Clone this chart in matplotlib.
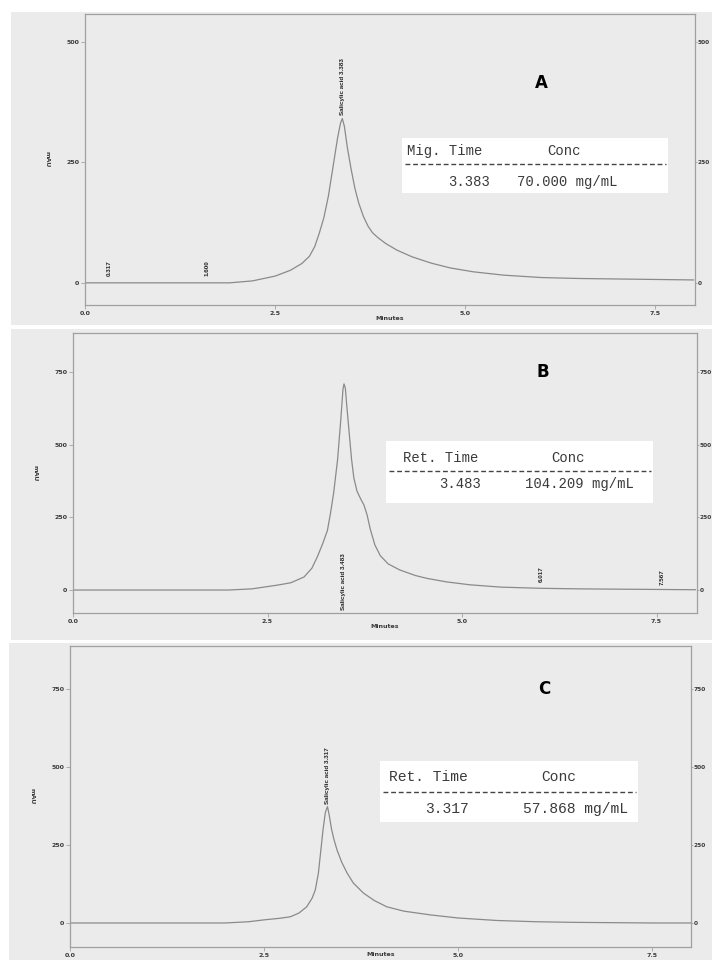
import matplotlib
matplotlib.use("Agg")
import matplotlib.pyplot as plt
from matplotlib.patches import Rectangle
from matplotlib.lines import Line2D

# chromatogram A (minutes, mAU)
time_a = [0, 0.5, 1.0, 1.5, 1.9, 2.2, 2.5, 2.7, 2.85, 2.95, 3.02, 3.08, 3.14, 3.2, 3.26, 3.32,
          3.36, 3.383, 3.41, 3.45, 3.5, 3.55, 3.6, 3.66, 3.72, 3.78, 3.85, 3.95, 4.1, 4.3,
          4.55, 4.8, 5.1, 5.5, 6.0, 6.5, 7.0, 7.5, 8.0]
mau_a = [0, 0, 0, 0, 0, 4, 14, 26, 40, 55, 75, 103, 135, 180, 240, 300,
         332, 341, 325, 280, 235, 195, 165, 138, 118, 104, 94, 82, 68, 54,
         41, 31, 23, 16, 11, 9, 8, 7, 6]

# chromatogram B
time_b = [0, 0.5, 1.0, 1.5, 2.0, 2.3, 2.63, 2.8, 2.97, 3.07, 3.14, 3.21, 3.27, 3.31, 3.35,
          3.40, 3.44, 3.47, 3.483, 3.5, 3.52, 3.55, 3.58, 3.61, 3.65, 3.70, 3.74, 3.78,
          3.82, 3.88, 3.95, 4.05, 4.2, 4.4, 4.55, 4.8, 5.1, 5.5, 6.0, 6.5, 7.0, 7.5, 8.0]
mau_b = [0, 0, 0, 0, 0, 4, 17, 25, 45, 75, 114, 160, 205, 265, 334,
         447, 580, 690, 709, 695, 630, 540, 450, 385, 340, 312, 292, 258,
         210, 155, 118, 90, 69, 50, 40, 28, 18, 10, 6, 4, 3, 2, 1]

# chromatogram C
time_c = [0, 0.5, 1.0, 1.5, 2.0, 2.3, 2.5, 2.7, 2.84, 2.95, 3.05, 3.12, 3.16, 3.2, 3.23,
          3.26, 3.29, 3.317, 3.34, 3.37, 3.40, 3.44, 3.5, 3.57, 3.65, 3.78, 3.92, 4.08,
          4.3, 4.64, 5.0, 5.5, 6.0, 6.5, 7.0, 7.5, 8.0]
mau_c = [0, 0, 0, 0, 0, 4, 10, 15, 20, 32, 52, 80, 106, 160, 230,
         300, 355, 373, 345, 300, 268, 234, 195, 160, 128, 96, 72, 52,
         38, 26, 16, 8, 4, 2, 1, 0, 0]

x_ticks = [0, 2.5, 5.0, 7.5]
x_labels = ["0.0", "2.5", "5.0", "7.5"]

W, H = 712, 960
BG = "#ebebeb"
LINE = "#8a8a8a"
FRAME = "#a0a0a0"
TXT = "#3a3a3a"


def fx(x):
    return x / W


def fy(y):
    return 1 - y / H


fig = plt.figure(figsize=(W / 100, H / 100), dpi=100)
fig.patch.set_facecolor("white")

# gray scanned panel backgrounds
for (x0, y0, x1, y1) in [(11, 12, 712, 325), (11, 329, 712, 640), (9, 643, 712, 960)]:
    fig.patches.append(Rectangle((fx(x0), fy(y1)), fx(x1 - x0), (y1 - y0) / H,
                                 transform=fig.transFigure, facecolor=BG,
                                 edgecolor="none", zorder=-2))


def make_axes(box, ylim, yticks, times, vals, xmax=8.02, xpad=0):
    left, top, right, bottom = box
    ax = fig.add_axes([fx(left), fy(bottom), fx(right - left), (bottom - top) / H])
    ax.set_facecolor("none")
    ax.plot(times, vals, color=LINE, lw=0.9)
    ax.set_xlim(0, xmax)
    ax.set_ylim(*ylim)
    ax.set_xticks(x_ticks)
    ax.set_xticklabels(x_labels)
    ax.set_yticks(yticks)
    ax.set_yticklabels([str(t) for t in yticks])
    for s in ax.spines.values():
        s.set_color(FRAME)
        s.set_linewidth(0.9)
    ax.tick_params(length=3, width=0.6, color=FRAME, pad=1, labelsize=4.5,
                   labelcolor=TXT)
    for lab in ax.get_xticklabels() + ax.get_yticklabels():
        lab.set_fontweight("bold")
    ax.set_xlabel("Minutes", fontsize=4.5, fontweight="bold", color=TXT, labelpad=xpad)
    ax.set_ylabel("mAU", fontsize=4.5, fontweight="bold", color=TXT, rotation=270,
                  labelpad=14, va="center")
    r = ax.twinx()
    r.set_ylim(*ylim)
    r.set_yticks(yticks)
    r.set_yticklabels([str(t) for t in yticks])
    r.tick_params(length=1.5, width=0.6, color=FRAME, pad=0.5, labelsize=4.2,
                  labelcolor=TXT)
    for lab in r.get_yticklabels():
        lab.set_fontweight("bold")
    for s in r.spines.values():
        s.set_visible(False)
    return ax


def peak_label(ax, x, y, s, va):
    ax.text(x, y, s, rotation=90, ha="center", va=va, fontsize=4.5,
            family="Liberation Sans", fontweight="bold", color="#222222")


def table(box, head_y, dash_y, val_y, cols, texts, size):
    x0, y0, x1, y1 = box
    fig.patches.append(Rectangle((fx(x0), fy(y1)), fx(x1 - x0), (y1 - y0) / H,
                                 transform=fig.transFigure, facecolor="white",
                                 edgecolor="none", zorder=-1))
    fig.text(fx(cols[0]), fy(head_y), texts[0], fontsize=size, family="Liberation Mono",
             color=TXT, va="center")
    fig.text(fx(cols[1]), fy(head_y), texts[1], fontsize=size, family="Liberation Mono",
             color=TXT, va="center")
    fig.text(fx(cols[2]), fy(val_y), texts[2], fontsize=size, family="Liberation Mono",
             color=TXT, va="center")
    fig.text(fx(cols[3]), fy(val_y), texts[3], fontsize=size, family="Liberation Mono",
             color=TXT, va="center")
    fig.add_artist(Line2D([fx(x0 + 3), fx(x1 - 2)], [fy(dash_y), fy(dash_y)],
                          transform=fig.transFigure, color="#444444", lw=1.0,
                          linestyle=(0, (3.5, 2))))


# panel A
ax_a = make_axes((85, 14, 695, 305), (-46, 558), [0, 250, 500], time_a, mau_a)
peak_label(ax_a, 3.383, 348, "Salicylic acid 3.383", "bottom")
peak_label(ax_a, 0.317, 14, "0.317", "bottom")
peak_label(ax_a, 1.600, 14, "1.600", "bottom")
fig.text(fx(541), fy(83), "A", fontsize=12, fontweight="bold", ha="center", va="center")
table((402, 138, 668, 193), 151, 164, 182, (407, 547, 448, 517),
      ["Mig. Time", "Conc", "3.383", "70.000 mg/mL"], 10)

# panel B
ax_b = make_axes((73, 333, 697, 613), (-79, 884), [0, 250, 500, 750], time_b, mau_b)
peak_label(ax_b, 3.483, 128, "Salicylic acid 3.483", "top")
peak_label(ax_b, 6.017, 27, "6.017", "bottom")
peak_label(ax_b, 7.567, 17, "7.567", "bottom")
fig.text(fx(543), fy(372), "B", fontsize=12, fontweight="bold", ha="center", va="center")
table((386, 441, 653, 503), 458, 471, 484, (403, 551, 439, 525),
      ["Ret. Time", "Conc", "3.483", "104.209 mg/mL"], 10)

# panel C
ax_c = make_axes((70, 646, 691, 947), (-77, 888), [0, 250, 500, 750], time_c, mau_c,
                 xmax=8.0, xpad=-4)
peak_label(ax_c, 3.317, 382, "Salicylic acid 3.317", "bottom")
fig.text(fx(544), fy(689), "C", fontsize=12, fontweight="bold", ha="center", va="center")
table((380, 761, 638, 822), 777, 792, 809, (389, 541, 425, 523),
      ["Ret. Time", "Conc", "3.317", "57.868 mg/mL"], 10.5)

fig.savefig("out.png", dpi=100)
